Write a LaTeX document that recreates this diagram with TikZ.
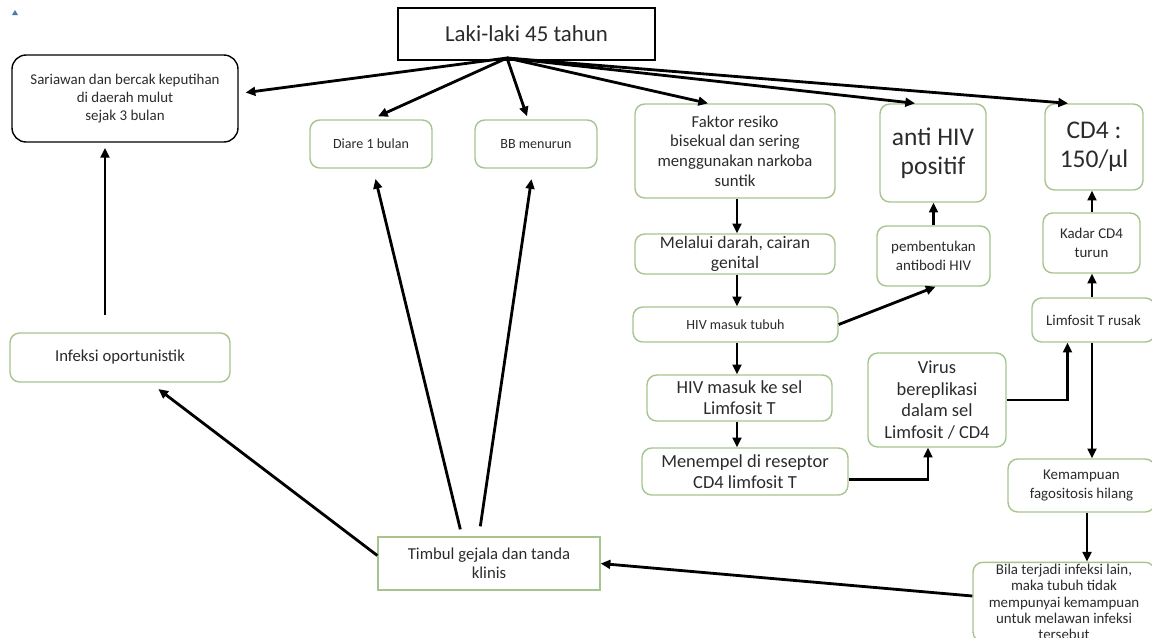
\documentclass[tikz,border=0pt]{standalone}
\usepackage{fontspec}
\setmainfont{Carlito}
\usetikzlibrary{arrows.meta, calc}
\definecolor{BoxGreen}{HTML}{A8C48E}
\definecolor{InkGray}{HTML}{2B2B2B}
\definecolor{MarkBlue}{HTML}{4A78A8}

\begin{document}
\begin{tikzpicture}[x=0.02cm, y=-0.02cm,
    gbox/.style={draw=BoxGreen, line width=0.8pt, rounded corners=5.5pt, align=center, text=InkGray, inner sep=1pt},
    arr/.style={-{Triangle[length=5.5pt,width=5pt]}, line width=1.6pt, black}]
          \useasboundingbox (0,0) rectangle (1152,637);
          \fill[MarkBlue] (12,15) -- (18,15) -- (15,10) -- cycle;

          % Top and left column
          \node[draw=black, line width=0.7pt, minimum width=5.14cm, minimum height=1.04cm, text=InkGray, font=\fontsize{13}{15}\selectfont] (laki) at (526.5,34) {Laki-laki 45 tahun};
          \coordinate (hub) at (507,58);
          \node[gbox, draw=black, rounded corners=8pt, minimum width=4.52cm, minimum height=1.74cm, font=\fontsize{8.5}{10.3}\selectfont] (sari) at (125,98.5) {Sariawan dan bercak keputihan\\di daerah mulut\\sejak 3 bulan};
          \node[gbox, minimum width=4.4cm, minimum height=0.98cm, font=\fontsize{9.5}{11}\selectfont] (infeksi) at (120,357.5) {Infeksi oportunistik};
          \node[gbox, minimum width=2.44cm, minimum height=0.96cm, font=\fontsize{8}{10}\selectfont] (diare) at (371,144) {Diare 1 bulan};
          \node[gbox, minimum width=2.44cm, minimum height=0.96cm, font=\fontsize{8}{10}\selectfont] (bb) at (536,144) {BB menurun};
          \node[gbox, rounded corners=0pt, minimum width=4.44cm, minimum height=1.06cm, font=\fontsize{9.5}{11}\selectfont] (timbul) at (489,563.5) {Timbul gejala dan tanda\\klinis};

          % Middle column
          \node[gbox, minimum width=4cm, minimum height=1.88cm, font=\fontsize{9.5}{11.2}\selectfont] (faktor) at (735,151) {Faktor resiko\\bisekual dan sering\\menggunakan narkoba\\suntik};
          \node[gbox, minimum width=4cm, minimum height=0.8cm, font=\fontsize{10}{11.5}\selectfont] (melalui) at (735,254) {Melalui darah, cairan\\genital};
          \node[gbox, minimum width=4.1cm, minimum height=0.7cm, font=\fontsize{8}{10}\selectfont] (masuk) at (735.5,324.5) {HIV masuk tubuh};
          \node[gbox, minimum width=3.7cm, minimum height=0.92cm, font=\fontsize{10.5}{12}\selectfont] (sel) at (739.5,398) {HIV masuk ke sel\\Limfosit T};
          \node[gbox, minimum width=4.12cm, minimum height=0.94cm, font=\fontsize{10.5}{12}\selectfont] (tempel) at (745,471.5) {Menempel di reseptor\\CD4 limfosit T};

          % Right columns
          \node[gbox, minimum width=2.12cm, minimum height=1.96cm, font=\fontsize{14.5}{16.5}\selectfont] (antihiv) at (933,153) {anti HIV\\positif};
          \node[gbox, minimum width=2.26cm, minimum height=1.2cm, font=\fontsize{8.5}{11}\selectfont] (bentuk) at (933.5,256) {pembentukan\\antibodi HIV};
          \node[gbox, minimum width=2.76cm, minimum height=1.88cm, font=\fontsize{10.5}{12.2}\selectfont] (virus) at (937,400) {Virus\\bereplikasi\\dalam sel\\Limfosit / CD4};
          \node[gbox, minimum width=1.96cm, minimum height=1.72cm, font=\fontsize{14.5}{16.5}\selectfont] (cdfour) at (1094,147) {CD4 :\\150/µl};
          \node[gbox, minimum width=1.94cm, minimum height=1.2cm, font=\fontsize{8.5}{11}\selectfont] (kadar) at (1091.5,243) {Kadar CD4\\turun};
          \node[gbox, minimum width=2.46cm, minimum height=0.88cm, font=\fontsize{8.5}{10}\selectfont] (rusak) at (1093.5,320) {Limfosit T rusak};
          \node[gbox, minimum width=2.94cm, minimum height=1.06cm, font=\fontsize{8.5}{10.5}\selectfont] (fagosit) at (1081.5,485.5) {Kemampuan\\fagositosis hilang};
          \node[gbox, minimum width=3.64cm, minimum height=1.5cm, font=\fontsize{8.5}{9.3}\selectfont] (bila) at (1064,602) {Bila terjadi infeksi lain,\\maka tubuh tidak\\mempunyai kemampuan\\untuk melawan infeksi\\tersebut};

          % Arrows from the patient
          \draw[arr, shorten >=4pt] (hub) -- ($(sari.east)+(0,-5)$);
          \draw[arr] (hub) -- ($(diare.north)+(7,-3)$);
          \draw[arr] (hub) -- ($(bb.north)+(-9,-3)$);
          \draw[arr] (hub) -- ($(faktor.north)+(-27,0)$);
          \draw[arr] (hub) -- ($(antihiv.north)+(-18,0)$);
          \draw[arr] (hub) -- ($(cdfour.north)+(-26,0)$);

          % Symptoms
          \draw[arr, shorten <=10pt, shorten >=3pt] (infeksi.north -| 105,0) -- (sari.south -| 105,0);
          \draw[arr, shorten >=6pt] ($(timbul.north west)+(83,-7)$) -- ($(diare.south)+(2,0)$);
          \draw[arr, shorten >=6pt] ($(timbul.north west)+(103,-10)$) -- ($(bb.south)+(-3,0)$);
          \draw[arr, shorten >=6pt] ($(timbul.west)+(0,-8)$) -- ($(infeksi.south)+(30,0)$);

          % HIV pathway
          \draw[arr] (faktor.south -| 737,0) -- (melalui.north -| 737,0);
          \draw[arr] (melalui.south -| 737,0) -- (masuk.north -| 737,0);
          \draw[arr] (masuk.east) -- ($(bentuk.south)+(2,0)$);
          \draw[arr] (bentuk.north) -- (antihiv.south -| bentuk.north);
          \draw[arr] (masuk.south -| 737,0) -- (sel.north -| 737,0);
          \draw[arr] (sel.south -| 737,0) -- (tempel.north -| 737,0);
          \draw[arr] ($(tempel.east)+(0,8)$) -| ($(virus.south)+(-9,0)$);
          \draw[arr] (virus.east) -| ($(rusak.south)+(-26,0)$);
          \draw[arr] (rusak.north -| 1092,0) -- (kadar.south -| 1092,0);
          \draw[arr] (kadar.north -| 1092,0) -- (cdfour.south -| 1092,0);
          \draw[arr] (rusak.south -| 1092,0) -- (fagosit.north -| 1092,0);
          \draw[arr] (fagosit.south -| 1087,0) -- (bila.north -| 1087,0);
          \draw[arr] ($(bila.west)+(0,-6)$) -- (timbul.east);
        \end{tikzpicture}
\end{document}
